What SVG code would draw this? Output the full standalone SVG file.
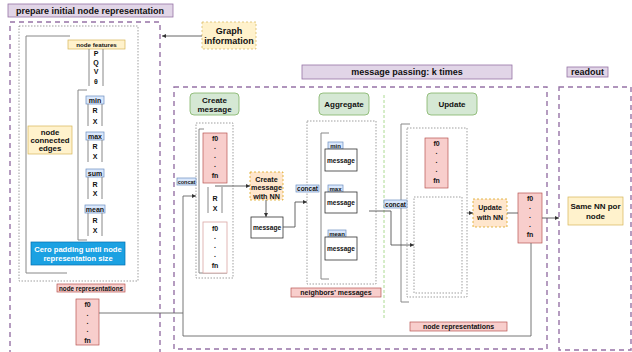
<svg xmlns="http://www.w3.org/2000/svg" width="632" height="352" viewBox="0 0 632 352">
<defs>
<marker id="ah" viewBox="0 0 6 6" refX="6" refY="3" markerWidth="4" markerHeight="4" markerUnits="userSpaceOnUse" orient="auto"><path d="M0,0 L6,3 L0,6 z" fill="#333"/></marker>
<style>
text{font-family:"Liberation Sans",Arial,sans-serif;font-weight:bold;fill:#111;text-anchor:middle;dominant-baseline:central}
.lav{fill:#e1d5e7;stroke:#9673a6;stroke-width:0.8}
.dash{fill:none;stroke:#9673a6;stroke-width:1.4;stroke-dasharray:5,4}
.dot{fill:none;stroke:#777;stroke-width:0.7;stroke-dasharray:1.5,1.5}
.yel{fill:#fff2cc;stroke:#d6b656;stroke-width:0.7}
.yeld{fill:#fff2cc;stroke:#d6b656;stroke-width:0.7;stroke-dasharray:2,2}
.org{fill:#ffe6cc;stroke:#d79b00;stroke-width:0.7;stroke-dasharray:2,2}
.blu{fill:#dae8fc;stroke:#6c8ebf;stroke-width:0.7}
.pnk{fill:#f8cecc;stroke:#b85450;stroke-width:0.7}
.grn{fill:#d5e8d4;stroke:#82b366;stroke-width:0.8}
.wht{fill:#fff;stroke:#333;stroke-width:0.8}
.br{fill:none;stroke:#888;stroke-width:1}
.ln{fill:none;stroke:#666;stroke-width:0.9}
.cn{fill:none;stroke:#555;stroke-width:0.9}
</style>
</defs>

<!-- prepare initial node representation -->
<g id="prepare">
<rect class="lav" x="8" y="4" width="165" height="13"/>
<text x="90" y="10.5" font-size="9">prepare initial node representation</text>
<rect class="dash" x="10" y="22" width="150" height="345"/>
<rect class="dot" x="19" y="26" width="119" height="255"/>
<path class="br" d="M70,36 H26 V273 H67"/>
</g>

<g id="node-features">
<rect class="yel" x="68" y="40" width="57" height="9"/>
<text x="96.5" y="44.5" font-size="6.2">node features</text>
<path class="br" d="M89,49 V86 M103,49 V86"/>
<text x="96" y="53" font-size="7">P</text>
<text x="96" y="62" font-size="7">Q</text>
<text x="96" y="71" font-size="7">V</text>
<text x="96" y="81" font-size="7">θ</text>
</g>

<g id="edges-list">
<path class="br" d="M87,90 H78 V240 H87"/>
<rect class="blu" x="86" y="96" width="18" height="8"/>
<text x="95" y="100" font-size="7">min</text>
<path class="br" d="M88,104 V126 M102,104 V126"/>
<text x="95" y="110" font-size="7">R</text>
<text x="95" y="121" font-size="7">X</text>
<rect class="blu" x="86" y="132" width="18" height="8"/>
<text x="95" y="136" font-size="7">max</text>
<path class="br" d="M88,140 V162 M102,140 V162"/>
<text x="95" y="146" font-size="7">R</text>
<text x="95" y="156" font-size="7">X</text>
<rect class="blu" x="86" y="169" width="18" height="8"/>
<text x="95" y="173" font-size="7">sum</text>
<path class="br" d="M88,177 V199 M102,177 V199"/>
<text x="95" y="184" font-size="7">R</text>
<text x="95" y="193" font-size="7">X</text>
<rect class="blu" x="85" y="205" width="20" height="8"/>
<text x="95" y="209" font-size="7">mean</text>
<path class="br" d="M88,213 V236 M102,213 V236"/>
<text x="95" y="220" font-size="7">R</text>
<text x="95" y="230" font-size="7">X</text>
</g>

<g id="node-connected-edges">
<rect class="yel" x="28" y="126" width="44" height="28"/>
<text x="50" y="132.5" font-size="7.8">node</text>
<text x="50" y="140.5" font-size="7.8">connected</text>
<text x="50" y="148.5" font-size="7.8">edges</text>
</g>

<g id="cero-padding">
<rect x="31" y="242" width="94" height="23" fill="#1ba1e2" stroke="#006eaf" stroke-width="0.7"/>
<text x="78" y="249.5" font-size="7.6" style="fill:#fff">Cero padding until node</text>
<text x="78" y="258.5" font-size="7.6" style="fill:#fff">representation size</text>
</g>

<g id="node-repr-left">
<rect class="pnk" x="57" y="284" width="68" height="8"/>
<text x="91" y="288" font-size="6.3">node representations</text>
<rect class="pnk" x="76" y="299" width="23" height="46"/>
<text x="87.5" y="304" font-size="7">f0</text>
<text x="87.5" y="313" font-size="7">.</text>
<text x="87.5" y="321" font-size="7">.</text>
<text x="87.5" y="329" font-size="7">.</text>
<text x="87.5" y="340" font-size="7">fn</text>
</g>

<g id="graph-information">
<rect class="yeld" x="202" y="22" width="54" height="27"/>
<text x="229" y="30.5" font-size="9">Graph</text>
<text x="229" y="41" font-size="9">information</text>
</g>

<!-- message passing -->
<g id="message-passing">
<rect class="lav" x="302" y="65" width="210" height="14"/>
<text x="407" y="72" font-size="9">message passing: k times</text>
<rect class="dash" x="174" y="87" width="373" height="262"/>
<line x1="384" y1="95" x2="384" y2="318" stroke="#97d077" stroke-width="0.8" stroke-dasharray="3,2"/>
</g>

<g id="readout">
<rect class="lav" x="567" y="67" width="41" height="10"/>
<text x="587.5" y="72" font-size="9">readout</text>
<rect class="dash" x="559" y="87" width="72" height="263"/>
</g>

<g id="create-message">
<rect class="grn" x="190" y="93" width="49" height="22" rx="4"/>
<text x="214.5" y="100" font-size="8">Create</text>
<text x="214.5" y="109.5" font-size="8">message</text>
<rect class="dot" x="196" y="123" width="37" height="155"/>
<path class="br" d="M204,129 H199 V273 H227"/>
<rect class="pnk" x="203" y="133" width="24" height="50"/>
<text x="215" y="138" font-size="7">f0</text>
<text x="215" y="146" font-size="7">.</text>
<text x="215" y="155" font-size="7">.</text>
<text x="215" y="164" font-size="7">.</text>
<text x="215" y="175" font-size="7">fn</text>
<path class="br" d="M208,187 V213 M222,187 V213"/>
<text x="215" y="198" font-size="7">R</text>
<text x="215" y="208" font-size="7">X</text>
<rect x="203" y="222" width="24" height="51" fill="#fff" stroke="#d9a6a4" stroke-width="0.8"/>
<text x="215" y="228" font-size="7">f0</text>
<text x="215" y="236" font-size="7">.</text>
<text x="215" y="245" font-size="7">.</text>
<text x="215" y="254" font-size="7">.</text>
<text x="215" y="265" font-size="7">fn</text>
<rect class="blu" x="177" y="178" width="19" height="7"/>
<text x="186.5" y="181.5" font-size="5.5">concat</text>
</g>

<g id="create-message-nn">
<rect class="org" x="250" y="172" width="33" height="28"/>
<text x="266.5" y="179" font-size="7.2">Create</text>
<text x="266.5" y="187.5" font-size="7.2">message</text>
<text x="266.5" y="196" font-size="7.2">with NN</text>
</g>

<g id="message">
<rect class="wht" x="251" y="217" width="32" height="21"/>
<text x="267" y="227.5" font-size="6.6">message</text>
</g>

<g id="aggregate">
<rect class="grn" x="319" y="93" width="50" height="22" rx="4"/>
<text x="344" y="104" font-size="8">Aggregate</text>
<rect class="dot" x="307" y="121" width="69" height="163"/>
<path class="br" d="M329,133 H321 V279 H329"/>
<rect class="blu" x="296" y="185" width="23" height="7"/>
<text x="307.5" y="188.5" font-size="6.5">concat</text>
<rect class="blu" x="328" y="142" width="15" height="7"/>
<text x="335.5" y="145.5" font-size="6">min</text>
<rect class="wht" x="325" y="149" width="32" height="22"/>
<text x="341" y="160" font-size="6.5">message</text>
<rect class="blu" x="328" y="185" width="15" height="7"/>
<text x="335.5" y="188.5" font-size="6">max</text>
<rect class="wht" x="325" y="192" width="32" height="21"/>
<text x="341" y="202.5" font-size="6.5">message</text>
<rect class="blu" x="328" y="230" width="18" height="7"/>
<text x="337" y="233.5" font-size="6">mean</text>
<rect class="wht" x="325" y="237" width="32" height="23"/>
<text x="341" y="248.5" font-size="6.5">message</text>
<rect class="pnk" x="291" y="288" width="90" height="9"/>
<text x="336" y="292.5" font-size="7">neighbors' messages</text>
</g>

<g id="update">
<rect class="grn" x="427" y="93" width="50" height="22" rx="4"/>
<text x="452" y="104" font-size="8">Update</text>
<path class="br" d="M410,124 H401 V302 H409"/>
<rect class="dot" x="407" y="128" width="60" height="169"/>
<rect class="pnk" x="425" y="138" width="23" height="50"/>
<text x="436.5" y="143" font-size="7">f0</text>
<text x="436.5" y="151" font-size="7">.</text>
<text x="436.5" y="160" font-size="7">.</text>
<text x="436.5" y="169" font-size="7">.</text>
<text x="436.5" y="180" font-size="7">fn</text>
<rect class="dot" x="414" y="197" width="48" height="96"/>
<rect class="blu" x="384" y="200" width="23" height="8"/>
<text x="395.5" y="204" font-size="6.5">concat</text>
</g>

<g id="update-nn">
<rect class="org" x="473" y="199" width="34" height="28"/>
<text x="490" y="207" font-size="7">Update</text>
<text x="490" y="217" font-size="7">with NN</text>
</g>

<g id="updated-repr">
<rect class="pnk" x="518" y="193" width="24" height="50"/>
<text x="530" y="198" font-size="7">f0</text>
<text x="530" y="206" font-size="7">.</text>
<text x="530" y="215" font-size="7">.</text>
<text x="530" y="224" font-size="7">.</text>
<text x="530" y="234" font-size="7">fn</text>
<rect class="pnk" x="410" y="322" width="97" height="9"/>
<text x="458.5" y="326.5" font-size="7">node representations</text>
</g>

<g id="same-nn">
<rect class="yel" x="568" y="197" width="55" height="28"/>
<text x="595.5" y="206.5" font-size="8">Same NN por</text>
<text x="595.5" y="216" font-size="8">node</text>
</g>

<g id="connectors">
<path class="cn" d="M202,36 H162" marker-end="url(#ah)"/>
<path class="ln" d="M99,313 H183"/>
<path class="ln" d="M531,243 V336 H183 V196 H196" marker-end="url(#ah)"/>
<path class="cn" d="M215,186 H250" marker-end="url(#ah)"/>
<path class="cn" d="M266,200 V217" marker-end="url(#ah)"/>
<path class="cn" d="M283,227 H295 V202 H307" marker-end="url(#ah)"/>
<path class="cn" d="M369,211 H391 V245 H414" marker-end="url(#ah)"/>
<path class="cn" d="M467,213 H473" marker-end="url(#ah)"/>
<path class="cn" d="M507,213 H518"/>
<path class="cn" d="M542,218 H559" marker-end="url(#ah)"/>
</g>
</svg>
